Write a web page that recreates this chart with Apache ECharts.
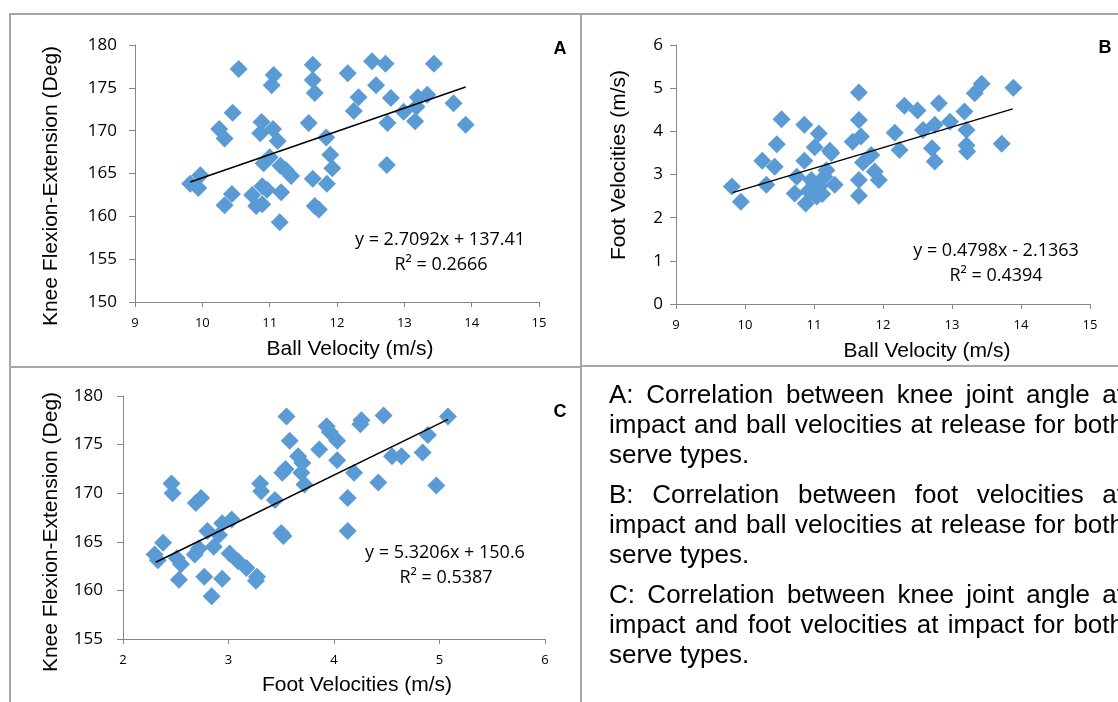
<!DOCTYPE html>
<html>
<head>
<meta charset="utf-8">
<script src="https://cdn.jsdelivr.net/npm/echarts@6/dist/echarts.min.js"></script>
<style>
html,body{margin:0;padding:0;background:#fff;overflow:hidden;}
#chart{width:1118px;height:702px;}
</style>
</head>
<body>
<div id="chart"></div>
<script>
// ---------- Panel A: Ball velocity vs knee flexion-extension ----------
const ballVelA = [9.82,9.97,9.94,10.54,11.06,11.03,11.64,11.64,11.67,12.16,12.52,12.72,13.44,12.58,12.32,12.25,12.80,12.99,13.20,13.34,13.18,13.16,12.75,13.73,13.91,10.45,10.25,10.33,10.88,10.86,11.05,11.12,11.58,11.84,11.90,11.93,11.85,11.64,12.74,11.00,10.91,11.16,11.24,11.32,10.44,10.33,10.74,10.89,10.96,10.80,10.89,11.17,11.15,11.67,11.73];
const kneeA    = [163.8,164.8,163.3,177.2,176.5,175.3,177.7,175.9,174.4,176.7,178.1,177.8,177.8,175.3,173.9,172.3,173.8,172.2,173.9,174.2,172.8,171.1,170.9,173.2,170.7,172.1,170.2,169.1,171.0,169.7,170.2,168.8,170.9,169.2,167.2,165.6,163.8,164.4,166.0,166.9,166.2,165.9,165.4,164.7,162.6,161.3,162.5,163.5,163.1,161.2,161.4,162.8,159.3,161.2,160.8];
const trendAx = [9.82, 13.91];
const trendAy = [164.0, 175.1];

// ---------- Panel B: Ball velocity vs foot velocity ----------
const ballVelB = [9.81,9.94,10.31,10.25,10.43,10.46,10.53,10.86,11.07,10.86,11.01,11.23,10.75,10.72,10.88,11.04,11.08,10.96,11.18,11.30,11.65,11.65,11.68,11.56,11.65,11.65,11.71,11.83,11.88,11.94,12.17,12.24,12.31,12.50,12.58,12.75,12.81,12.71,12.75,12.97,13.18,13.21,13.21,13.22,13.33,13.43,13.72,13.89,10.92,11.12,11.00,11.15,11.25];
const footB    = [2.72,2.37,2.76,3.32,3.18,3.70,4.28,4.15,3.95,3.32,3.63,3.55,2.95,2.56,2.33,2.49,2.72,2.87,3.10,2.76,4.90,4.26,3.88,3.76,2.87,2.51,3.28,3.45,3.07,2.87,3.97,3.57,4.59,4.48,4.03,4.15,4.65,3.61,3.30,4.22,4.46,4.03,3.68,3.53,4.88,5.10,3.71,5.01,2.62,2.55,2.78,2.95,3.50];
const trendBx = [9.82, 13.88];
const trendBy = [2.58, 4.52];

// ---------- Panel C: Foot velocity vs knee flexion-extension ----------
const footC = [2.30,2.33,2.38,2.46,2.47,2.51,2.55,2.53,2.69,2.74,2.80,2.68,2.72,2.77,2.84,2.86,2.91,2.94,3.03,2.94,3.01,3.09,3.17,3.26,3.27,3.30,3.31,3.44,3.50,3.52,3.51,3.54,3.55,3.58,3.66,3.70,3.69,3.72,3.86,3.93,3.96,4.03,4.03,4.19,4.13,4.13,4.26,4.25,4.42,4.47,4.55,4.64,4.84,4.89,4.97,5.08];
const kneeC = [163.7,163.1,164.9,171.0,170.0,163.3,162.7,161.1,169.0,169.5,166.1,163.7,164.3,161.4,159.4,164.5,165.7,166.9,167.3,161.2,163.8,163.0,162.3,161.0,161.4,171.0,170.2,169.3,165.9,165.6,172.1,172.5,177.9,175.4,173.8,173.1,172.1,170.9,174.5,176.9,176.3,175.4,173.4,172.1,169.5,166.1,177.5,177.1,171.1,178.0,173.8,173.8,174.2,176.0,170.8,177.9];
const trendCx = [2.31, 5.08];
const trendCy = [162.9, 177.6];

// ---------- Axis ticks ----------
const ticksA = {xMin:9, xMax:15, xStep:1, yMin:150, yMax:180, yStep:5};
const ticksB = {xMin:9, xMax:15, xStep:1, yMin:0, yMax:6, yStep:1};
const ticksC = {xMin:2, xMax:6, xStep:1, yMin:155, yMax:180, yStep:5};

// ---------- Texts ----------
const eqA = ['y = 2.7092x + 137.41', 'R² = 0.2666'];
const eqB = ['y = 0.4798x - 2.1363', 'R² = 0.4394'];
const eqC = ['y = 5.3206x + 150.6', 'R² = 0.5387'];
const captions = [
  ['A: Correlation between knee joint angle at', 'impact and ball velocities at release for both', 'serve types.'],
  ['B: Correlation between foot velocities at', 'impact and ball velocities at release for both', 'serve types.'],
  ['C: Correlation between knee joint angle at', 'impact and foot velocities at impact for both', 'serve types.']
];

const zip = (a, b) => a.map((v, i) => [v, b[i]]);

const BLUE = '#5B9BD5';
const AXIS = '#868686';
const TICKFONT = '"Open Sans", "Noto Sans", sans-serif';
const ARIAL = '"Liberation Sans", Arial, sans-serif';

function xAxisCfg(idx, t) {
  return {
    type: 'value', gridIndex: idx, min: t.xMin, max: t.xMax, interval: t.xStep,
    splitLine: {show: false},
    axisLine: {show: true, onZero: false, lineStyle: {color: AXIS, width: 1}},
    axisTick: {show: true, inside: false, length: 5, lineStyle: {color: AXIS}},
    axisLabel: {color: '#000', fontFamily: TICKFONT, fontSize: 13, margin: 15}
  };
}
function yAxisCfg(idx, t, margin) {
  return {
    type: 'value', gridIndex: idx, min: t.yMin, max: t.yMax, interval: t.yStep,
    splitLine: {show: false},
    axisLine: {show: true, onZero: false, lineStyle: {color: AXIS, width: 1}},
    axisTick: {show: true, inside: false, length: 6, lineStyle: {color: AXIS}},
    axisLabel: {color: '#000', fontFamily: TICKFONT, fontSize: 17, margin: margin}
  };
}
function scatter(idx, data) {
  return {type: 'scatter', xAxisIndex: idx, yAxisIndex: idx, data: data,
    symbol: 'diamond', symbolSize: 18, itemStyle: {color: BLUE, opacity: 1}, silent: true, z: 2};
}
function trend(idx, xs, ys) {
  return {type: 'line', xAxisIndex: idx, yAxisIndex: idx, data: zip(xs, ys),
    showSymbol: false, symbol: 'none', lineStyle: {color: '#000', width: 1.5}, silent: true, z: 3};
}

// ---------- graphic helpers ----------
const measureCtx = document.createElement('canvas').getContext('2d');
function txt(x, y, text, font, opts) {
  opts = opts || {};
  return {
    type: 'text', x: x, y: y, rotation: opts.rotation || 0, z: 10,
    style: {text: text, font: font, fill: opts.fill || '#000',
      align: opts.align || 'center', verticalAlign: opts.valign || 'middle',
      textAlign: opts.align || 'center', textVerticalAlign: opts.valign || 'middle'}
  };
}
function justified(line, x0, x1, y, fontPx) {
  const font = fontPx + 'px ' + ARIAL;
  measureCtx.font = font;
  const words = line.split(' ');
  const widths = words.map(w => measureCtx.measureText(w).width);
  const total = widths.reduce((s, w) => s + w, 0);
  const gap = words.length > 1 ? (x1 - x0 - total) / (words.length - 1) : 0;
  let x = x0;
  return words.map((w, i) => {
    const el = txt(x, y, w, font, {align: 'left'});
    x += widths[i] + gap;
    return el;
  });
}

const graphics = [];
// panel borders
const borderStyle = {fill: 'none', stroke: '#a6a6a6', lineWidth: 2};
graphics.push({type: 'rect', shape: {x: 10, y: 14, width: 571, height: 353}, style: borderStyle, z: 1});
graphics.push({type: 'rect', shape: {x: 581, y: 14, width: 545, height: 352}, style: borderStyle, z: 1});
graphics.push({type: 'rect', shape: {x: 10, y: 367, width: 571, height: 345}, style: borderStyle, z: 1});

// axis titles
const titleFont = '21px ' + ARIAL;
graphics.push(txt(51, 186, 'Knee Flexion-Extension (Deg)', titleFont, {rotation: Math.PI / 2}));
graphics.push(txt(350, 349, 'Ball Velocity (m/s)', titleFont));
graphics.push(txt(619, 165, 'Foot Velocities (m/s)', titleFont, {rotation: Math.PI / 2}));
graphics.push(txt(927, 351, 'Ball Velocity (m/s)', titleFont));
graphics.push(txt(51, 532, 'Knee Flexion-Extension (Deg)', titleFont, {rotation: Math.PI / 2}));
graphics.push(txt(357, 685, 'Foot Velocities (m/s)', titleFont));

// panel letters
const letterFont = 'bold 18px ' + ARIAL;
graphics.push(txt(560, 49, 'A', letterFont));
graphics.push(txt(1105, 48, 'B', letterFont));
graphics.push(txt(560, 412, 'C', letterFont));

// regression equations
const eqFont = '18px ' + TICKFONT;
graphics.push(txt(440, 240, eqA[0], eqFont));
graphics.push(txt(441, 265, eqA[1], eqFont));
graphics.push(txt(996, 251, eqB[0], eqFont));
graphics.push(txt(996, 276, eqB[1], eqFont));
graphics.push(txt(445, 553, eqC[0], eqFont));
graphics.push(txt(446, 578, eqC[1], eqFont));

// captions (justified)
const capY = [396, 496, 596];
captions.forEach((lines, p) => {
  lines.forEach((line, i) => {
    const y = capY[p] + i * 30;
    if (i < lines.length - 1) {
      justified(line, 609, 1124, y, 26).forEach(g => graphics.push(g));
    } else {
      graphics.push(txt(609, y, line, '26px ' + ARIAL, {align: 'left'}));
    }
  });
});

const chart = echarts.init(document.getElementById('chart'), null, {renderer: 'canvas'});
chart.setOption({
  animation: false,
  backgroundColor: '#fff',
  grid: [
    {left: 135, top: 45, width: 404, height: 257},
    {left: 676, top: 45, width: 414, height: 259},
    {left: 123, top: 396, width: 422, height: 243}
  ],
  xAxis: [xAxisCfg(0, ticksA), xAxisCfg(1, ticksB), xAxisCfg(2, ticksC)],
  yAxis: [yAxisCfg(0, ticksA, 18), yAxisCfg(1, ticksB, 13), yAxisCfg(2, ticksC, 20)],
  series: [
    scatter(0, zip(ballVelA, kneeA)), trend(0, trendAx, trendAy),
    scatter(1, zip(ballVelB, footB)), trend(1, trendBx, trendBy),
    scatter(2, zip(footC, kneeC)), trend(2, trendCx, trendCy)
  ],
  graphic: graphics
});
</script>
</body>
</html>
